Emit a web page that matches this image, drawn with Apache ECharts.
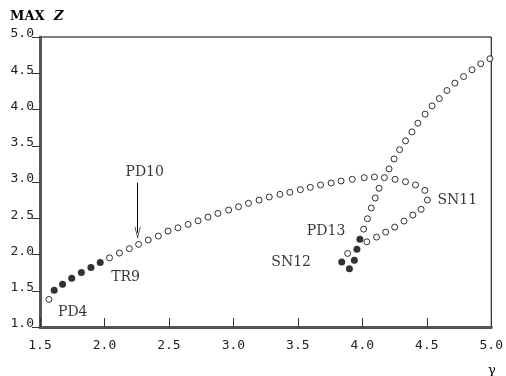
<!DOCTYPE html>
<html>
<head>
<meta charset="utf-8">
<script src="https://cdn.jsdelivr.net/npm/echarts@6/dist/echarts.min.js"></script>
<style>html,body{margin:0;padding:0;background:#fff;}#c{width:506px;height:376px;}</style>
</head>
<body>
<div id="c"></div>
<script>
// ---- data (gamma, max z) ----
var xTicks = [1.5, 2.0, 2.5, 3.0, 3.5, 4.0, 4.5, 5.0];
var yTicks = [1.0, 1.5, 2.0, 2.5, 3.0, 3.5, 4.0, 4.5, 5.0];

var mainFilled = [[1.61,1.507],[1.675,1.59],[1.746,1.673],[1.821,1.752],[1.895,1.82],[1.967,1.89]];

var mainOpen = [[1.569,1.38],
  [2.039,1.954],[2.116,2.02],[2.193,2.08],[2.265,2.14],[2.34,2.2],[2.418,2.254],
  [2.493,2.323],[2.570,2.368],[2.649,2.415],[2.726,2.465],[2.803,2.516],[2.880,2.567],
  [2.963,2.613],[3.040,2.659],[3.117,2.706],[3.199,2.751],[3.278,2.793],[3.361,2.830],
  [3.438,2.858],[3.519,2.894],[3.596,2.927],[3.676,2.959],[3.758,2.986],[3.835,3.014],
  [3.922,3.037],[4.015,3.06],[4.094,3.069],[4.171,3.06],[4.254,3.037],[4.335,3.004],
  [4.412,2.959],[4.485,2.885],[4.505,2.751]];

var returnBranch = [[4.456,2.623],[4.392,2.544],[4.323,2.461],[4.251,2.378],[4.181,2.309],[4.110,2.240],[4.035,2.175]];

var upperBranch = [[3.886,2.015],[4.010,2.350],[4.040,2.493],[4.069,2.641],[4.100,2.779],[4.130,2.913],
  [4.207,3.180],[4.246,3.318],[4.289,3.446],[4.335,3.567],[4.385,3.691],[4.431,3.811],
  [4.487,3.936],[4.541,4.050],[4.597,4.151],[4.656,4.262],[4.718,4.364],[4.785,4.455],
  [4.851,4.548],[4.918,4.631],[4.990,4.700]];

var cascadeFilled = [[3.981,2.212],[3.958,2.074],[3.938,1.922],[3.900,1.802],[3.840,1.898]];

var pointLabels = [[2.312,3.13,'PD10'],[2.164,1.683,'TR9'],[1.754,1.207,'PD4'],
  [3.719,2.313,'PD13'],[3.448,1.898,'SN12'],[4.737,2.751,'SN11']];

var arrowPD10 = [[2.257,2.99],[2.257,2.30]];

// ---- chart ----
var chart = echarts.init(document.getElementById('c'), null, {renderer:'canvas'});
var openStyle = {color:'#fff', borderColor:'#000', borderWidth:1};
var filledStyle = {color:'#000'};
var tickFont = {fontFamily:'DejaVu Sans Mono', fontSize:13, color:'#222'};

chart.setOption({
  animation:false,
  backgroundColor:'#fff',
  grid:{left:40, right:12, top:37, bottom:49, show:true, borderColor:'#000', borderWidth:1, backgroundColor:'transparent'},
  xAxis:{type:'value', min:xTicks[0], max:xTicks[xTicks.length-1], interval:0.5,
    axisLine:{show:true, onZero:false, lineStyle:{color:'#555', width:3}},
    axisTick:{show:true, inside:true, length:9, lineStyle:{color:'#333', width:1}},
    axisLabel:Object.assign({margin:12, formatter:function(v){return v.toFixed(1);}}, tickFont),
    splitLine:{show:false}},
  yAxis:{type:'value', min:yTicks[0], max:yTicks[yTicks.length-1], interval:0.5,
    axisLine:{show:true, onZero:false, lineStyle:{color:'#555', width:3}},
    axisTick:{show:true, inside:false, length:8, lineStyle:{color:'#333', width:1}},
    axisLabel:Object.assign({margin:6, verticalAlign:'bottom', lineHeight:6, formatter:function(v){return v.toFixed(1);}}, tickFont),
    splitLine:{show:false}},
  graphic:[
    {type:'text', left:10, top:10, style:{text:'{a|MAX} {b|Z}', rich:{
      a:{fontFamily:'DejaVu Serif', fontWeight:'bold', fontSize:13, fill:'#000'},
      b:{fontFamily:'DejaVu Serif', fontWeight:'bold', fontStyle:'italic', fontSize:13, fill:'#000', padding:[0,0,0,6]}}}},
    {type:'text', left:488, top:364, style:{text:'γ', fontFamily:'DejaVu Serif', fontSize:13, fill:'#000'}}
  ],
  series:[
    {type:'scatter', data:mainOpen, symbol:'circle', symbolSize:6, itemStyle:openStyle, z:3},
    {type:'scatter', data:returnBranch, symbol:'circle', symbolSize:6, itemStyle:openStyle, z:3},
    {type:'scatter', data:upperBranch, symbol:'circle', symbolSize:6, itemStyle:openStyle, z:3},
    {type:'scatter', data:mainFilled, symbol:'circle', symbolSize:7, itemStyle:filledStyle, z:4},
    {type:'scatter', data:cascadeFilled, symbol:'circle', symbolSize:7, itemStyle:filledStyle, z:4},
    {type:'scatter', data:pointLabels, symbolSize:0, silent:true, z:5,
      label:{show:true, position:'inside', formatter:function(p){return p.value[2];},
        fontFamily:'DejaVu Serif', fontSize:14, color:'#000'},
      markLine:{silent:true, symbol:['none','path://M0,14 L5,0 L10,14 L9,14 L5,3 L1,14 Z'], symbolSize:[6,12],
        label:{show:false}, lineStyle:{color:'#000', width:1, type:'solid'},
        data:[[{coord:arrowPD10[0]},{coord:arrowPD10[1]}]]}}
  ]
});
</script>
</body>
</html>
